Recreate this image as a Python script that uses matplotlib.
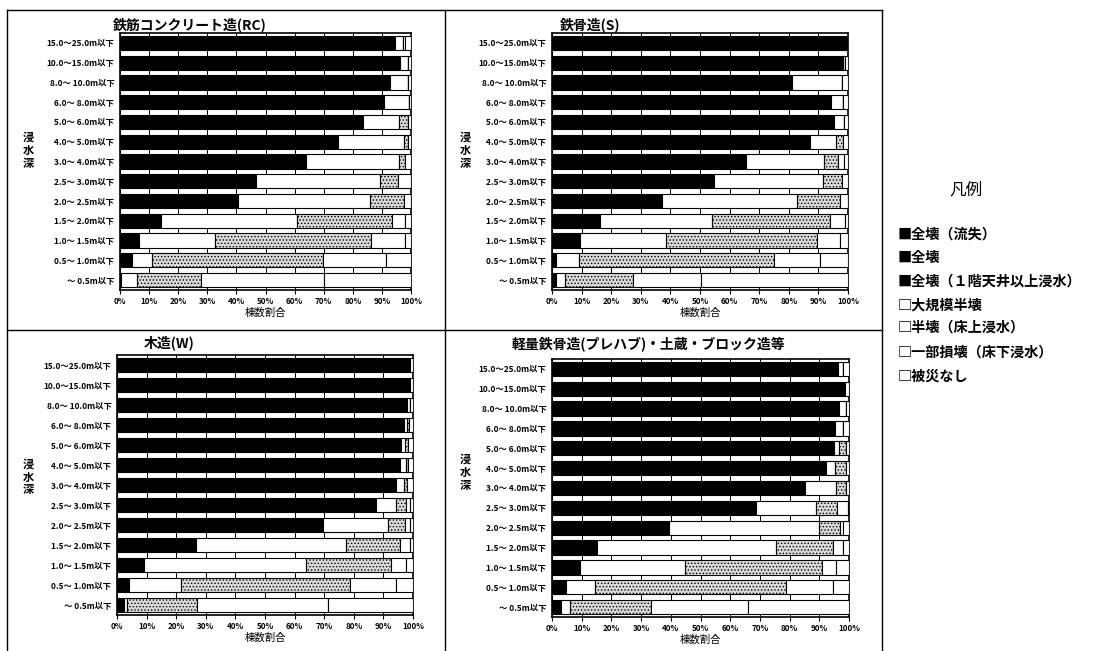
import matplotlib
matplotlib.use("Agg")
import matplotlib.pyplot as plt
from matplotlib.lines import Line2D

plt.rcParams['font.family'] = ['Noto Sans CJK JP', 'DejaVu Sans']
plt.rcParams['font.weight'] = 'bold'
plt.rcParams['hatch.linewidth'] = 0.6

depths = ["15.0～25.0m以下", "10.0～15.0m以下", "8.0～ 10.0m以下", "6.0～ 8.0m以下",
          "5.0～ 6.0m以下", "4.0～ 5.0m以下", "3.0～ 4.0m以下", "2.5～ 3.0m以下",
          "2.0～ 2.5m以下", "1.5～ 2.0m以下", "1.0～ 1.5m以下", "0.5～ 1.0m以下",
          "～ 0.5m以下"]

legend_items = ["■全壊（流失）", "■全壊", "■全壊（１階天井以上浸水）", "□大規模半壊",
                "□半壊（床上浸水）", "□一部損壊（床下浸水）", "□被災なし"]

# black = 全壊(流失)+全壊+全壊(1階天井以上浸水) (not distinguishable in the scan)
rc_black = [94.6, 96.1, 92.9, 90.6, 83.5, 74.8, 64.0, 46.7, 40.7, 14.0, 6.7, 4.0, 0.5]
rc_daikibo = [2.8, 2.8, 6.0, 8.6, 12.4, 22.9, 31.8, 42.7, 45.3, 46.8, 26.0, 6.9, 5.5]
rc_hankai = [0, 0, 0, 0, 3.0, 1.1, 2.0, 6.0, 11.7, 32.7, 53.5, 58.8, 21.8]
rc_ichibu = [0.5, 0, 0, 0, 0, 0, 0, 4.6, 2.3, 4.6, 11.9, 21.8, 42.2]
rc_nashi = [2.1, 1.1, 1.1, 0.8, 1.1, 1.2, 2.2, 0, 0, 1.9, 1.9, 8.5, 30.0]

s_black = [99.8, 98.3, 81.2, 94.1, 95.3, 87.0, 65.4, 54.6, 37.3, 16.1, 9.3, 1.5, 1.5]
s_daikibo = [0, 0.6, 16.9, 4.2, 3.2, 9.1, 26.4, 37.0, 45.6, 38.1, 29.3, 7.6, 2.8]
s_hankai = [0, 0, 0, 0, 0, 2.2, 4.8, 6.5, 14.5, 39.8, 50.9, 65.8, 23.1]
s_ichibu = [0, 0, 0, 0, 0, 0, 2.0, 0, 2.6, 4.9, 7.9, 15.5, 23.1]
s_nashi = [0.2, 1.1, 1.9, 1.7, 1.5, 1.7, 1.4, 1.9, 0, 1.1, 2.6, 9.6, 49.5]

w_black = [98.6, 99.1, 98.0, 96.8, 96.1, 95.5, 94.1, 87.4, 69.6, 26.8, 9.0, 4.1, 2.3]
w_daikibo = [0.5, 0, 1.1, 1.2, 1.1, 2.0, 2.7, 7.0, 22.0, 50.7, 55.0, 17.6, 1.1]
w_hankai = [0, 0, 0, 0.8, 1.1, 0.8, 1.1, 3.1, 5.6, 18.0, 28.7, 57.1, 23.6]
w_ichibu = [0, 0, 0, 0, 0, 0, 0, 1.4, 1.7, 3.4, 5.0, 15.3, 44.3]
w_nashi = [0.9, 0.9, 0.9, 1.2, 1.7, 1.7, 2.1, 1.1, 1.1, 1.1, 2.3, 5.9, 28.7]

p_black = [96.3, 98.5, 96.6, 95.2, 94.9, 92.1, 85.1, 68.8, 39.4, 15.2, 9.5, 4.6, 3.1]
p_daikibo = [1.7, 0, 2.5, 2.8, 1.7, 3.1, 10.6, 20.2, 50.5, 60.1, 35.2, 9.8, 3.1]
p_hankai = [0, 0, 0, 0, 2.5, 3.9, 3.4, 7.0, 7.0, 19.3, 46.3, 64.3, 27.2]
p_ichibu = [0, 0, 0, 0, 0, 0, 0, 3.7, 1.1, 3.4, 4.5, 15.9, 32.6]
p_nashi = [2.0, 1.5, 0.9, 2.0, 0.9, 0.9, 0.9, 0.3, 2.0, 2.0, 4.5, 5.4, 34.0]

W, H = 1103, 651
fig = plt.figure(figsize=(W / 100, H / 100), dpi=100)


def px_axes(x0, y0, x1, y1):
    return fig.add_axes([x0 / W, 1 - y1 / H, (x1 - x0) / W, (y1 - y0) / H])


def draw_panel(ax, title, title_xy, ylab_xy, series):
    styles = [dict(color='black'),
              dict(color='white'),
              dict(color='#d9d9d9', hatch='.....'),
              dict(color='white'),
              dict(color='white')]
    ypos = list(range(len(depths)))
    left = [0.0] * len(depths)
    for vals, st in zip(series, styles):
        ax.barh(ypos, vals, left=left, height=0.72, edgecolor='black',
                linewidth=0.8, zorder=3, **st)
        left = [a + b for a, b in zip(left, vals)]
    ax.set_xlim(0, 100)
    ax.set_ylim(len(depths) - 0.5, -0.5)
    ax.set_xticks(range(0, 101, 10))
    ax.set_xticklabels([f"{v}%" for v in range(0, 101, 10)], fontsize=5.8)
    ax.set_yticks(ypos)
    ax.set_yticklabels(depths, fontsize=6)
    ax.tick_params(axis='y', length=0, pad=4)
    ax.tick_params(axis='x', length=3, width=0.8, pad=2)
    ax.grid(axis='x', color='black', linewidth=0.7)
    ax.set_axisbelow(True)
    for sp in ax.spines.values():
        sp.set_linewidth(1.2)
    ax.set_xlabel("棟数割合", fontsize=7.5, labelpad=1)
    fig.text(title_xy[0] / W, 1 - title_xy[1] / H, title, fontsize=10,
             ha='center', va='center', fontweight='bold')
    fig.text(ylab_xy[0] / W, 1 - ylab_xy[1] / H, "浸\n水\n深", fontsize=8,
             ha='center', va='center', linespacing=1.0, fontweight='bold')


ax1 = px_axes(120, 33, 411, 290)
draw_panel(ax1, "鉄筋コンクリート造(RC)", (190, 25), (28, 150),
           [rc_black, rc_daikibo, rc_hankai, rc_ichibu, rc_nashi])
ax2 = px_axes(552, 33, 848, 290)
draw_panel(ax2, "鉄骨造(S)", (590, 25), (465, 150),
           [s_black, s_daikibo, s_hankai, s_ichibu, s_nashi])
ax3 = px_axes(117, 355, 413, 615)
draw_panel(ax3, "木造(W)", (169, 343), (28, 477),
           [w_black, w_daikibo, w_hankai, w_ichibu, w_nashi])
ax4 = px_axes(552, 359, 849, 617)
draw_panel(ax4, "軽量鉄骨造(プレハブ)・土蔵・ブロック造等", (648, 344), (465, 472),
           [p_black, p_daikibo, p_hankai, p_ichibu, p_nashi])

# frame lines around the four panels
frame = [((7, 882), (10, 10)), ((7, 7), (10, 650)), ((445, 445), (10, 650)),
         ((882, 882), (10, 650)), ((7, 882), (330, 330))]
for xs, ys in frame:
    fig.add_artist(Line2D([x / W for x in xs], [1 - y / H for y in ys],
                          color='black', linewidth=1.0))

# legend
fig.text(966 / W, 1 - 190 / H, "凡例", fontsize=12, ha='center', va='center',
         fontweight='normal')
leg_y = [235, 258, 282, 305, 328, 353, 377]
for txt, y in zip(legend_items, leg_y):
    fig.text(898 / W, 1 - y / H, txt, fontsize=10.2, ha='left', va='center',
             fontweight='bold')

fig.savefig("out.png", dpi=100)
